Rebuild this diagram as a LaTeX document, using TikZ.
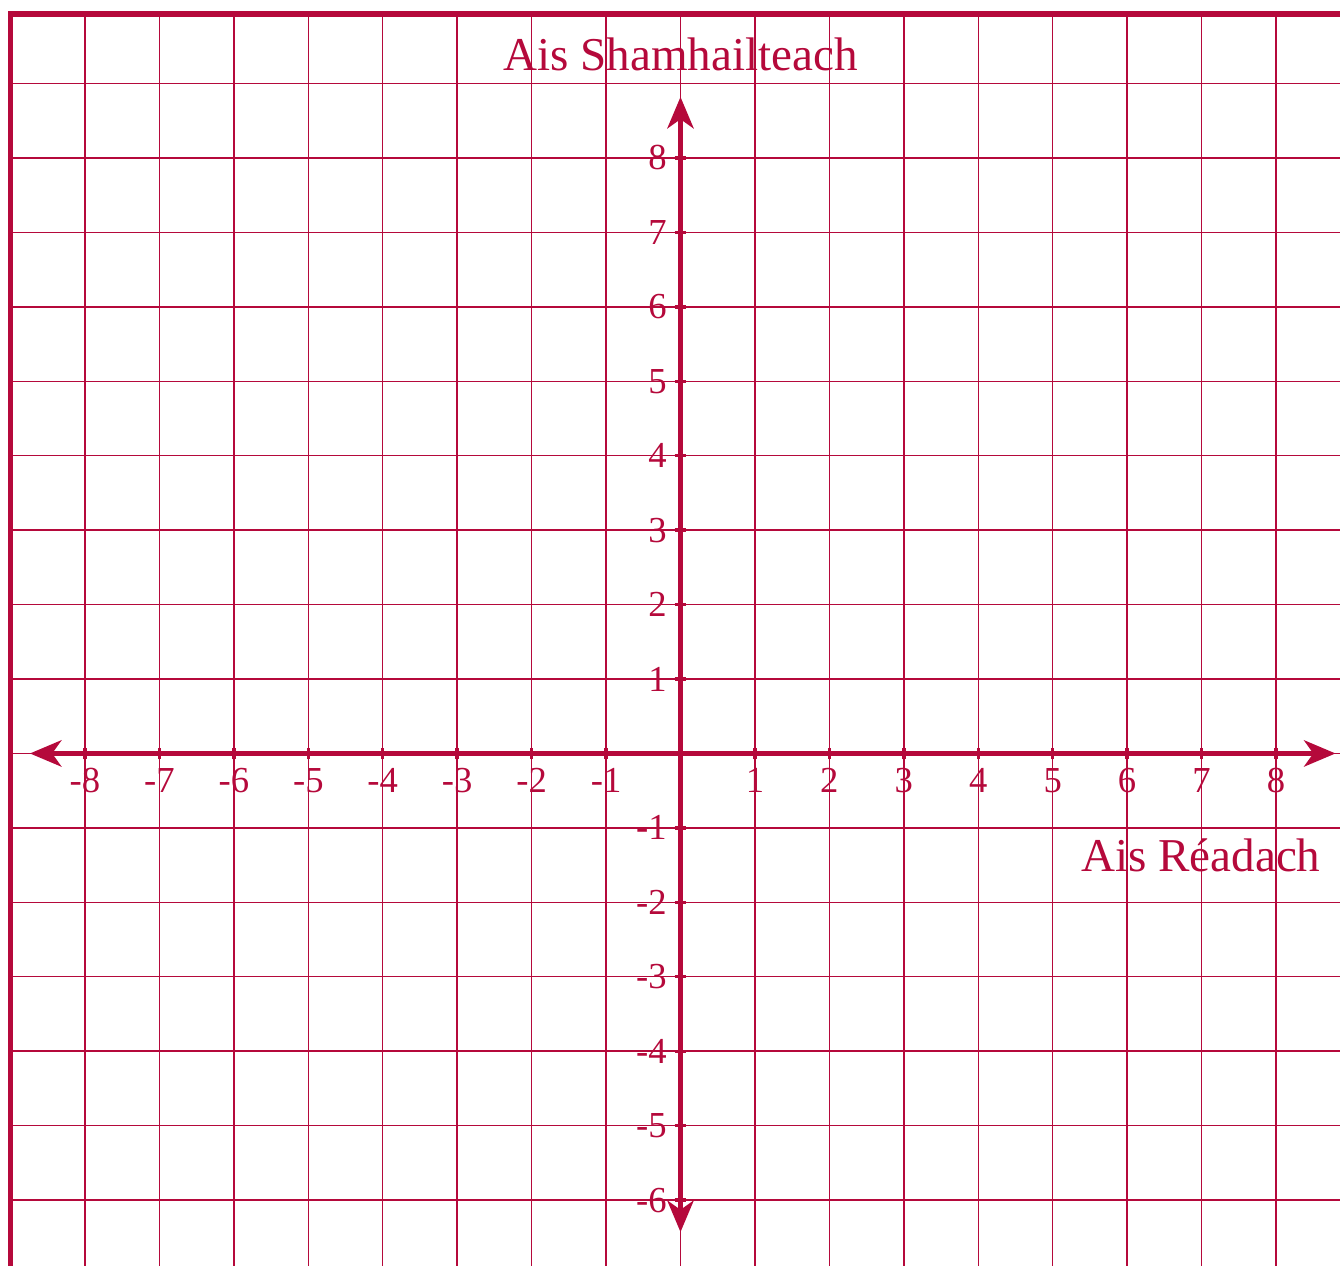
\documentclass[tikz,border=0pt]{standalone}
\usepackage{fontspec}
\setmainfont{Liberation Serif}
\usepackage{tikz}
\usetikzlibrary{arrows.meta}
\definecolor{crimson}{HTML}{B5093B}

\begin{document}
\begin{tikzpicture}[
    >={Stealth[length=12pt, width=10pt, inset=3.5pt]},
    gridline/.style={crimson, line width=0.55pt},
    frameline/.style={crimson, line width=2.2pt},
    axisline/.style={crimson, line width=2pt},
    tickmark/.style={crimson, line width=1.3pt},
    ticklabel/.style={text=crimson, font=\fontsize{14}{16}\selectfont, inner sep=0pt},
    axistitle/.style={text=crimson, font=\fontsize{18}{22}\selectfont, inner sep=0pt},
]
    \useasboundingbox (-9.142,-6.874) rectangle (8.860,10.122);

    % Grid
    \draw[gridline] (-9,-7.5) grid (9.5,9.93);

    % Frame
    \draw[frameline] (-9,-7.5) -- (-9,9.93) -- (9.5,9.93);

    % Axes
    \coordinate (xmin) at (-8.74,0);
    \coordinate (xmax) at (8.80,0);
    \coordinate (ymin) at (0,-6.43);
    \coordinate (ymax) at (0,8.82);
    \draw[axisline, <->] (xmin) -- (xmax);
    \draw[axisline, <->] (ymin) -- (ymax);

    % Ticks and labels
    \foreach \x in {-8,...,-1,1,2,...,8} {
        \draw[tickmark] (\x,-0.08) -- (\x,0.08);
        \node[ticklabel, anchor=base] (xl\x) at (\x,-0.53) {\x};
    }
    \foreach \y in {-6,...,-1,1,2,...,8} {
        \draw[tickmark] (-0.08,\y) -- (0.08,\y);
        \node[ticklabel, anchor=east] (yl\y) at (-0.18,\y) {\y};
    }

    % Axis titles
    \node[axistitle, anchor=base] (ytitle) at (0,9.18) {Ais Shamhailteach};
    \node[axistitle, anchor=base] (xtitle) at (6.99,-1.59) {Ais Réadach};

\end{tikzpicture}
\end{document}
